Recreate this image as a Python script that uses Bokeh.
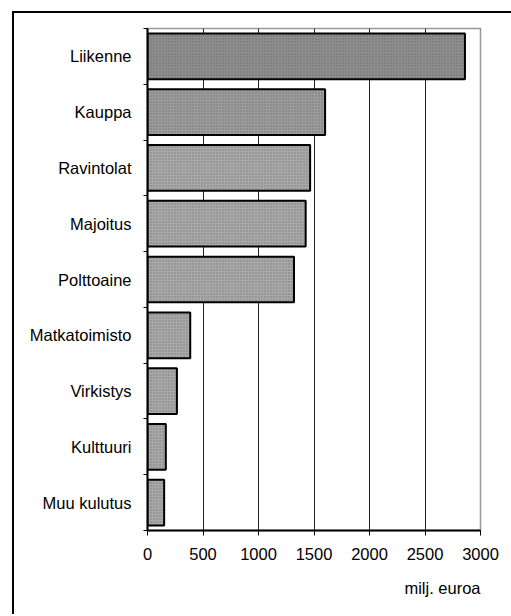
from bokeh.plotting import figure
from bokeh.models import FixedTicker, Range1d, Title
from bokeh.embed import file_html
from bokeh.resources import INLINE

categories = ["Liikenne", "Kauppa", "Ravintolat", "Majoitus", "Polttoaine",
              "Matkatoimisto", "Virkistys", "Kulttuuri", "Muu kulutus"]
values = [2860, 1600, 1465, 1425, 1320, 385, 265, 165, 150]
x_ticks = [0, 500, 1000, 1500, 2000, 2500, 3000]
unit_label = "milj. euroa"

n = len(categories)
centers = [n - i - 0.5 for i in range(n)]
boundaries = list(range(n + 1))
bar_colors = ["#8e8e8e", "#9c9c9c"] + ["#a9a9a9"] * (n - 2)

FONT = "Liberation Sans"

p = figure(output_backend="svg", toolbar_location=None,
           x_range=Range1d(0, 3000), y_range=Range1d(0, n),
           frame_width=333, frame_height=502,
           min_border_left=133, min_border_top=15, min_border_right=31,
           min_border_bottom=84)
p.styles = {"margin-left": "12px", "margin-top": "11px",
            "border-left": "2px solid black", "border-top": "2px solid black"}

p.hbar(y=centers, right=values, left=0, height=0.82,
       fill_color=bar_colors, line_color="black", line_width=2,
       hatch_pattern="dot", hatch_color="#4a4a4a", hatch_scale=3,
       hatch_weight=1, hatch_alpha=0.5)

p.ygrid.grid_line_color = None
p.xgrid.grid_line_color = "#222222"
p.xgrid.grid_line_width = 1
p.xgrid.ticker = FixedTicker(ticks=x_ticks)

p.outline_line_color = "#333333"
p.outline_line_dash = "1 1"
p.outline_line_width = 1.5

xa = p.xaxis[0]
xa.ticker = FixedTicker(ticks=x_ticks)
xa.axis_line_color = "black"
xa.axis_line_width = 2
xa.major_tick_out = 5
xa.major_tick_in = 0
xa.major_tick_line_color = "black"
xa.minor_tick_line_color = None
xa.major_label_text_font = FONT
xa.major_label_text_font_size = "16.5px"
xa.major_label_text_color = "black"
xa.major_label_standoff = 12

ya = p.yaxis[0]
ya.ticker = FixedTicker(ticks=centers, minor_ticks=boundaries)
ya.major_label_overrides = {c: lab for c, lab in zip(centers, categories)}
ya.axis_line_color = "black"
ya.axis_line_width = 2
ya.major_tick_line_color = None
ya.major_tick_out = 0
ya.major_tick_in = 0
ya.minor_tick_line_color = "black"
ya.minor_tick_out = 4
ya.minor_tick_in = 0
ya.major_label_text_font = FONT
ya.major_label_text_font_size = "16.5px"
ya.major_label_text_color = "black"
ya.major_label_standoff = 12

t = Title(text=unit_label, align="right", text_font=FONT, text_font_size="16.5px",
          text_font_style="normal", text_color="black", standoff=28)
p.add_layout(t, "below")

open("out.html", "w").write(file_html(p, INLINE))
